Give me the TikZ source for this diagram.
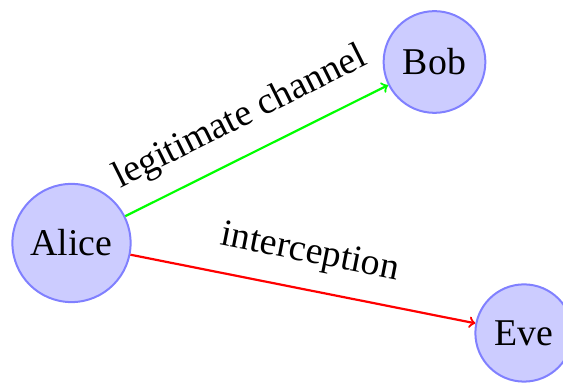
\documentclass[tikz,border=0pt]{standalone}
\usepackage{fontspec}
\setmainfont{Liberation Serif}
\begin{document}
\begin{tikzpicture}[x=1pt,y=1pt,
  person/.style={circle, draw=blue!50, fill=blue!20, line width=1pt, inner sep=6.2pt},
  lbl/.style={inner sep=9pt},
  every node/.append style={font=\fontsize{18.9}{22}\selectfont}]
\useasboundingbox (0,0) rectangle (281.5,-191.5);
\node[person] (alice) at (35.75,-121.5) {Alice};
\node[person] (bob) at (217.25,-31) {Bob};
\node[person] (eve) at (262,-166.5) {Eve};
\draw[->, green, line width=1.1pt] (alice) -- node[lbl, above, sloped, text=black] {legitimate channel} (bob);
\draw[->, red, line width=1.1pt] (alice) -- node[lbl, above, sloped, text=black] {interception} (eve);
\end{tikzpicture}
\end{document}
